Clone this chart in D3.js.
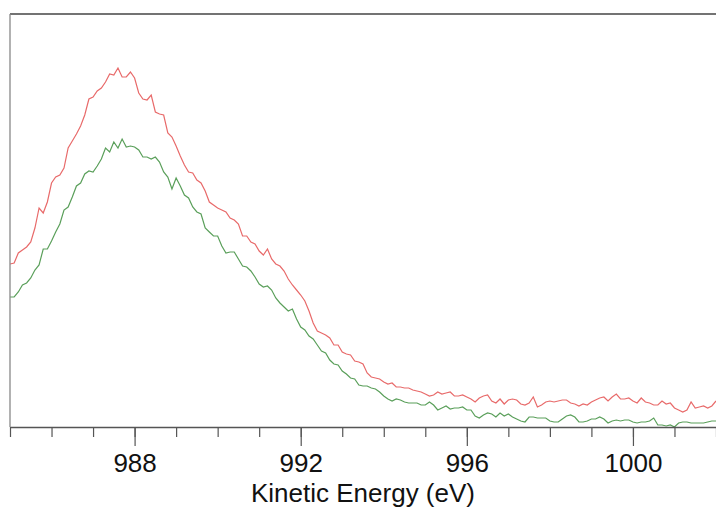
<!DOCTYPE html>
<html>
<head>
<meta charset="utf-8">
<script src="https://cdn.jsdelivr.net/npm/d3@7"></script>
<style>
  body { margin: 0; background: #fff; }
  svg { display: block; font-family: "Liberation Sans", Arial, sans-serif; }
</style>
</head>
<body>
<svg id="chart"></svg>
<script>
// kinetic energy grid (eV), 0.1 eV steps
var energy = [
  985.0,985.1,985.2,985.3,985.4,985.5,985.6,985.7,985.8,985.9,
  986.0,986.1,986.2,986.3,986.4,986.5,986.6,986.7,986.8,986.9,
  987.0,987.1,987.2,987.3,987.4,987.5,987.6,987.7,987.8,987.9,
  988.0,988.1,988.2,988.3,988.4,988.5,988.6,988.7,988.8,988.9,
  989.0,989.1,989.2,989.3,989.4,989.5,989.6,989.7,989.8,989.9,
  990.0,990.1,990.2,990.3,990.4,990.5,990.6,990.7,990.8,990.9,
  991.0,991.1,991.2,991.3,991.4,991.5,991.6,991.7,991.8,991.9,
  992.0,992.1,992.2,992.3,992.4,992.5,992.6,992.7,992.8,992.9,
  993.0,993.1,993.2,993.3,993.4,993.5,993.6,993.7,993.8,993.9,
  994.0,994.1,994.2,994.3,994.4,994.5,994.6,994.7,994.8,994.9,
  995.0,995.1,995.2,995.3,995.4,995.5,995.6,995.7,995.8,995.9,
  996.0,996.1,996.2,996.3,996.4,996.5,996.6,996.7,996.8,996.9,
  997.0,997.1,997.2,997.3,997.4,997.5,997.6,997.7,997.8,997.9,
  998.0,998.1,998.2,998.3,998.4,998.5,998.6,998.7,998.8,998.9,
  999.0,999.1,999.2,999.3,999.4,999.5,999.6,999.7,999.8,999.9,
  1000.0,1000.1,1000.2,1000.3,1000.4,1000.5,1000.6,1000.7,1000.8,1000.9,
  1001.0,1001.1,1001.2,1001.3,1001.4,1001.5,1001.6,1001.7,1001.8,1001.9,
  1002.0
]

// intensity (arb. units)
var redSpectrum = [
  163,164,174,177,180,185,199,219,214,225,
  244,250,252,259,279,286,293,301,312,328,
  330,336,339,345,353,352,359,350,350,355,
  349,334,328,327,332,315,313,312,294,290,
  281,271,262,255,254,247,244,236,225,222,
  219,217,215,209,207,203,191,191,185,183,
  176,172,178,168,163,161,156,148,142,137,
  132,126,116,104,96,94,92,89,82,82,
  75,73,72,66,65,63,54,50,49,48,
  45,43,44,40,40,39,39,37,36,35,
  33,31,32,35,33,34,35,31,31,32,
  30,28,25,29,31,32,26,24,28,23,
  27,28,27,23,22,24,30,20,22,25,
  26,25,26,27,27,24,23,21,23,22,
  25,27,29,30,26,30,33,28,28,29,
  26,24,29,25,24,22,22,26,23,24,
  19,17,15,17,25,19,20,21,19,21,
  26
]

var greenSpectrum = [
  130,130,135,142,144,149,157,162,178,178,
  186,195,203,217,220,230,241,244,253,256,
  255,261,268,279,275,285,279,288,280,281,
  280,277,270,270,268,270,265,255,250,238,
  249,241,232,229,220,215,213,199,195,191,
  191,181,174,175,175,168,161,160,156,150,
  143,140,141,137,129,124,120,116,118,108,
  100,97,91,88,82,76,74,67,63,62,
  56,53,49,48,42,41,41,39,38,35,
  31,28,26,28,27,25,24,24,24,22,
  22,25,22,17,19,21,18,19,19,20,
  17,17,11,9,12,14,13,10,14,11,
  13,10,8,6,5,10,10,9,9,9,
  6,5,5,8,11,12,10,5,5,6,
  8,8,10,8,4,6,7,6,7,7,
  5,4,5,5,6,9,2,2,1,2,
  0,4,5,5,4,4,4,4,5,6,
  6
]

var majorTicks = [988, 992, 996, 1000]
var minorTicks = [985, 986, 987, 988, 989, 990, 991, 992, 993, 994, 995, 996, 997, 998, 999, 1000, 1001, 1002]
var xTitle = "Kinetic Energy (eV)"

var width = 716, height = 508
var margin = {top: 14, right: 0, bottom: 81, left: 10}
var plotW = width - margin.left - margin.right
var plotH = height - margin.top - margin.bottom

var svg = d3.select("#chart")
    .attr("width", width)
    .attr("height", height)

var x = d3.scaleLinear().domain([985, 1002]).range([0, plotW])
var y = d3.scaleLinear().domain([0, 413]).range([plotH, 0])

var g = svg.append("g")
    .attr("transform", `translate(${margin.left}, ${margin.top})`)

g.append("clipPath").attr("id", "clip")
  .append("rect").attr("width", plotW).attr("height", plotH + 0.5)

var line = d3.line()
    .x((d, i) => x(energy[i]))
    .y(d => y(d))

g.append("path")
    .datum(redSpectrum)
    .attr("clip-path", "url(#clip)")
    .attr("fill", "none")
    .attr("stroke", "#e86a6a")
    .attr("stroke-width", 1.2)
    .attr("d", line)

g.append("path")
    .datum(greenSpectrum)
    .attr("clip-path", "url(#clip)")
    .attr("fill", "none")
    .attr("stroke", "#5a9f5a")
    .attr("stroke-width", 1.2)
    .attr("d", line)

// frame: top and left
g.append("line")
    .attr("x1", 0).attr("x2", plotW)
    .attr("y1", 0).attr("y2", 0)
    .attr("stroke", "#444").attr("stroke-width", 1.3)
g.append("line")
    .attr("x1", 0).attr("x2", 0)
    .attr("y1", 0).attr("y2", plotH)
    .attr("stroke", "#888").attr("stroke-width", 1.3)

// minor ticks
var minorAxis = g.append("g")
    .attr("transform", `translate(0, ${plotH})`)
    .call(d3.axisBottom(x).tickValues(minorTicks).tickSize(10).tickSizeOuter(0).tickFormat(""))
minorAxis.select(".domain").remove()

// major ticks with labels
var majorAxis = g.append("g")
    .attr("transform", `translate(0, ${plotH})`)
    .call(d3.axisBottom(x).tickValues(majorTicks).tickSize(19).tickSizeOuter(0).tickPadding(8).tickFormat(d3.format("d")))

g.selectAll(".tick line").attr("stroke", "#555").attr("stroke-width", 1.2)
majorAxis.select(".domain").attr("stroke", "#555").attr("stroke-width", 1.3)
majorAxis.selectAll("text")
    .attr("font-size", 26)
    .attr("font-family", "Liberation Sans, Arial, sans-serif")
    .attr("fill", "#111")

g.append("text")
    .attr("x", plotW / 2)
    .attr("y", plotH + 74.5)
    .attr("text-anchor", "middle")
    .attr("font-size", 26)
    .attr("fill", "#111")
    .text(xTitle)
</script>
</body>
</html>
